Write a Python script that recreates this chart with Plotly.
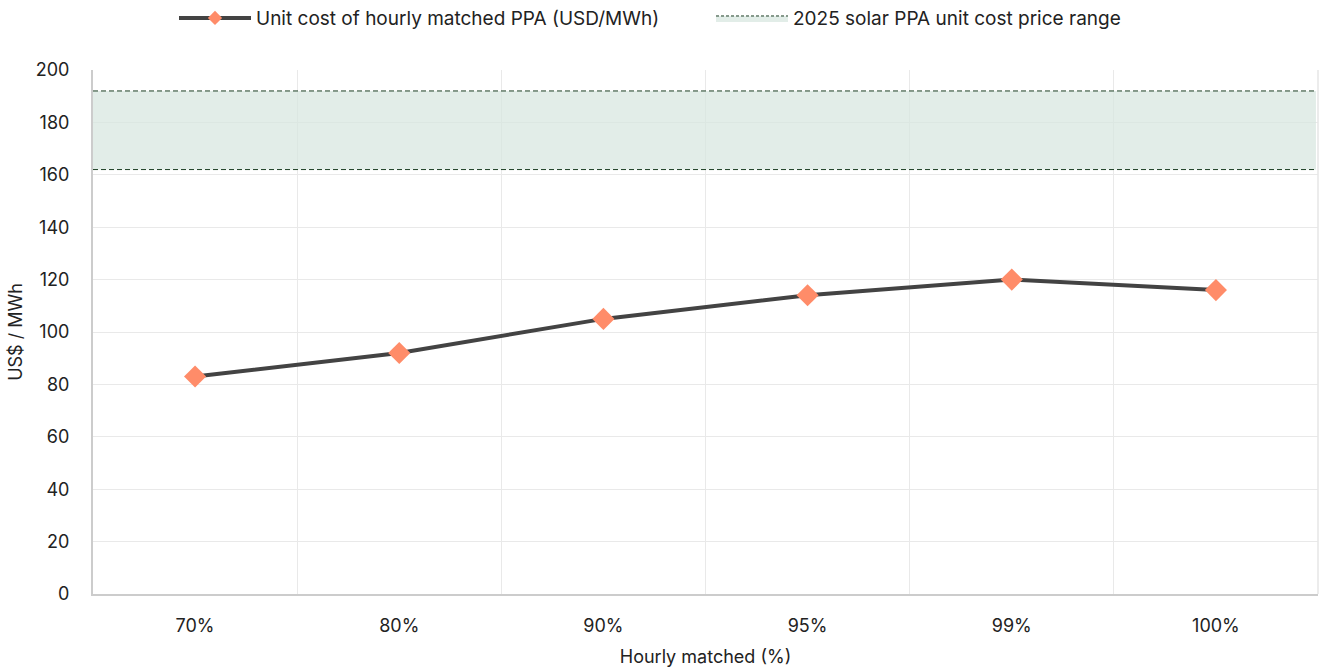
import plotly.graph_objects as go

categories = ["70%", "80%", "90%", "95%", "99%", "100%"]
unit_cost = [83, 92, 105, 114, 120, 116]
band_low = 162
band_high = 192
y_ticks = [0, 20, 40, 60, 80, 100, 120, 140, 160, 180, 200]

xpos = [i + 0.5 for i in range(len(categories))]
n = len(categories)

FONT = "Inter, 'Open Sans', sans-serif"
BAND_LINE = "#1d3f24"
BAND_FILL = "rgba(214,229,222,0.7)"
fig = go.Figure()

# Band fill (invisible edges)
fig.add_trace(go.Scatter(
    x=[0, n - 0.01], y=[band_low, band_low], mode="lines",
    line=dict(width=0), showlegend=False, hoverinfo="skip"))
fig.add_trace(go.Scatter(
    x=[0, n - 0.01], y=[band_high, band_high], mode="lines",
    line=dict(width=0), fill="tonexty", fillcolor=BAND_FILL,
    showlegend=False, hoverinfo="skip"))
# Dashed edges
for yv in (band_low, band_high):
    fig.add_trace(go.Scatter(
        x=[0, n - 0.01], y=[yv, yv], mode="lines",
        line=dict(color=BAND_LINE, width=1, dash="5px,3px"),
        showlegend=False, hoverinfo="skip"))

# Main series
fig.add_trace(go.Scatter(
    x=xpos, y=unit_cost, mode="lines+markers",
    line=dict(color="#434343", width=4),
    marker=dict(symbol="diamond", size=17, color="#FF8C69"),
    showlegend=False))

# Legend proxies
fig.add_trace(go.Scatter(
    x=[None], y=[None], mode="lines+markers",
    line=dict(color="#434343", width=4),
    marker=dict(symbol="diamond", size=11, color="#FF8C69"),
    name="Unit cost of hourly matched PPA (USD/MWh)"))
fig.add_trace(go.Scatter(
    x=[None], y=[None], mode="lines", fill="toself",
    fillcolor=BAND_FILL, line=dict(color=BAND_LINE, width=1, dash="3px,2px"),
    name="2025 solar PPA unit cost price range"))

fig.update_layout(
    width=1321, height=672,
    margin=dict(l=93, r=3, t=70, b=78, autoexpand=False),
    paper_bgcolor="white", plot_bgcolor="white",
    font=dict(family=FONT, size=18, color="#222222"),
    legend=dict(orientation="h", x=(174 - 93) / 1225, xanchor="left", y=1.099, yanchor="middle",
                font=dict(size=19), itemwidth=72, entrywidth=450, entrywidthmode="pixels",
                traceorder="normal"),
    showlegend=True,
    shapes=[
        dict(type="line", xref="paper", yref="paper", x0=1, x1=1, y0=0, y1=1,
             line=dict(color="#e6e6e6", width=1.5)),
    ],
)

fig.update_xaxes(
    range=[0, n], tickvals=xpos, ticktext=categories, showgrid=False,
    showline=True, linecolor="#cccccc", linewidth=2, zeroline=False,
    ticks="", ticklabelstandoff=14,
    minor=dict(tickvals=list(range(1, n)), showgrid=True, gridcolor="#e9e9e9", gridwidth=1),
    title=dict(text="Hourly matched (%)", font=dict(size=18), standoff=16),
    tickfont=dict(size=18),
)
fig.update_yaxes(
    range=[0, 200], tickvals=y_ticks, showgrid=True, gridcolor="#e9e9e9", gridwidth=1,
    showline=True, linecolor="#cccccc", linewidth=2, zeroline=False,
    ticks="", ticklabelstandoff=18,
    title=dict(text="US$ / MWh", font=dict(size=18), standoff=8),
    tickfont=dict(size=18),
)

fig.write_html("out.html")
